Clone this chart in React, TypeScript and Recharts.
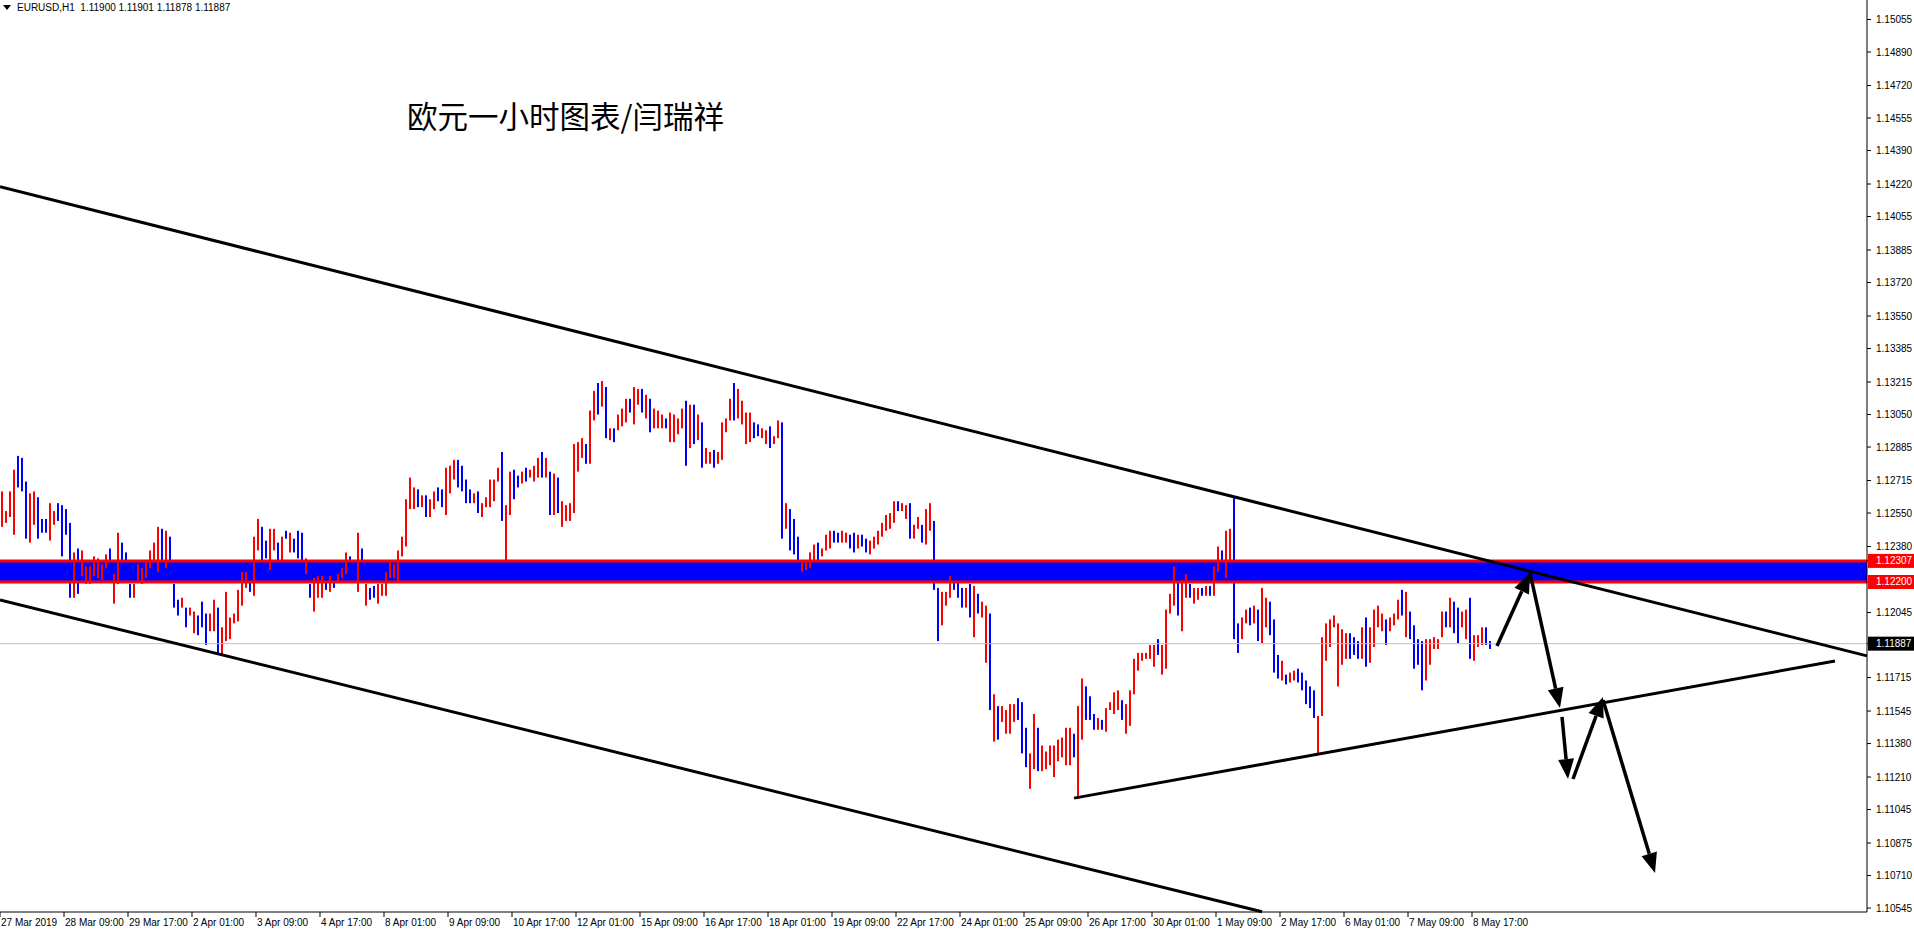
import React from "react";
import {
  ComposedChart,
  Bar,
  XAxis,
  YAxis,
  ReferenceArea,
  ReferenceLine,
} from "recharts";

const week1: [number, number][] = [
  [1.1266, 1.1248], [1.1256, 1.125], [1.1266, 1.1253], [1.1277, 1.1244], [1.1284, 1.1268],
  [1.1283, 1.1266], [1.1271, 1.1242], [1.1265, 1.124], [1.1266, 1.1249], [1.1263, 1.1242],
  [1.1252, 1.1245], [1.1252, 1.1245], [1.126, 1.1241], [1.1256, 1.1249], [1.126, 1.1251],
  [1.1259, 1.1233], [1.1257, 1.1244], [1.125, 1.1212], [1.1235, 1.1212], [1.1237, 1.1214],
  [1.1236, 1.1223], [1.1228, 1.1219], [1.1228, 1.1219], [1.1233, 1.1223], [1.1232, 1.1222],
  [1.1229, 1.1221], [1.1234, 1.1227], [1.1237, 1.1228], [1.1224, 1.1209], [1.1245, 1.1219],
  [1.124, 1.1227], [1.1235, 1.1226], [1.1219, 1.1212], [1.1219, 1.1212], [1.1229, 1.1221],
  [1.1227, 1.1219],
];
const week2: [number, number][] = [
  [1.1231, 1.1222], [1.1236, 1.1227], [1.124, 1.123], [1.1248, 1.1225], [1.1247, 1.123],
  [1.1246, 1.1227], [1.1243, 1.1227], [1.1219, 1.1207], [1.1211, 1.1203], [1.1212, 1.1207],
  [1.1207, 1.1197], [1.1207, 1.1203], [1.1205, 1.1194], [1.1203, 1.1193], [1.121, 1.1197],
  [1.1204, 1.1188], [1.1204, 1.1195], [1.1211, 1.1195], [1.1207, 1.1183], [1.1197, 1.1183],
  [1.1215, 1.119], [1.1202, 1.1191], [1.1204, 1.1199], [1.1216, 1.12], [1.1225, 1.1208],
  [1.1225, 1.1217], [1.1225, 1.1215], [1.1243, 1.1213], [1.1252, 1.1236], [1.1248, 1.1231],
  [1.1241, 1.1232], [1.1247, 1.1226], [1.1247, 1.1236], [1.124, 1.1231], [1.1243, 1.1231],
  [1.1246, 1.1242], [1.1245, 1.1235], [1.1242, 1.1235], [1.1246, 1.1232], [1.1245, 1.1231],
  [1.1232, 1.1224], [1.1219, 1.1212], [1.1222, 1.1205], [1.1223, 1.1212], [1.1223, 1.1212],
  [1.1223, 1.1216], [1.1223, 1.1215], [1.1222, 1.1217], [1.1224, 1.122], [1.1227, 1.1222],
  [1.1235, 1.1224], [1.1233, 1.1223], [1.1231, 1.1226], [1.1245, 1.1215], [1.1237, 1.1228],
  [1.1219, 1.1208], [1.1217, 1.1211], [1.1218, 1.1212], [1.1219, 1.1209], [1.1219, 1.1213],
];
const week3: [number, number][] = [
  [1.1225, 1.1213], [1.1231, 1.1222], [1.1229, 1.1222], [1.1236, 1.122], [1.1243, 1.1233],
  [1.1262, 1.1238], [1.1273, 1.1257], [1.1268, 1.1257], [1.1267, 1.1258], [1.1264, 1.1258],
  [1.1264, 1.1253], [1.1262, 1.1253], [1.1266, 1.1257], [1.1268, 1.1261], [1.1267, 1.1258],
  [1.1278, 1.1254], [1.1279, 1.1265], [1.1282, 1.1272], [1.1282, 1.1268], [1.1279, 1.1266],
  [1.1272, 1.126], [1.1267, 1.126], [1.1265, 1.126], [1.1266, 1.1255], [1.126, 1.1253],
  [1.1263, 1.1258], [1.1272, 1.1258], [1.1272, 1.1261], [1.1278, 1.1271], [1.1286, 1.1251],
  [1.1259, 1.123], [1.1276, 1.1254], [1.1277, 1.1262], [1.1274, 1.1268], [1.1276, 1.127],
  [1.1278, 1.1271], [1.1277, 1.1273], [1.1279, 1.1271], [1.1283, 1.1273], [1.1286, 1.1273],
  [1.1283, 1.1273], [1.1276, 1.1254], [1.1275, 1.1254], [1.1273, 1.1255], [1.1261, 1.1248],
  [1.1259, 1.1251], [1.126, 1.1251], [1.129, 1.1255], [1.1291, 1.1276], [1.1293, 1.1283],
  [1.129, 1.128], [1.1307, 1.128], [1.1317, 1.1302], [1.1321, 1.1305], [1.1322, 1.1309],
  [1.1319, 1.1293], [1.1298, 1.1292], [1.1298, 1.1291], [1.1305, 1.1297], [1.1308, 1.1299],
];
const week4: [number, number][] = [
  [1.1313, 1.1301], [1.1313, 1.1306], [1.1319, 1.13], [1.1318, 1.131], [1.1318, 1.1306],
  [1.1315, 1.1303], [1.1313, 1.1296], [1.1308, 1.1298], [1.1307, 1.1298], [1.1305, 1.1298],
  [1.1303, 1.1298], [1.1306, 1.1291], [1.1305, 1.1291], [1.1303, 1.1295], [1.1308, 1.1298],
  [1.1312, 1.1279], [1.131, 1.1288], [1.131, 1.129], [1.1305, 1.1292], [1.1301, 1.1278],
  [1.1288, 1.128], [1.1286, 1.128], [1.1287, 1.1278], [1.1286, 1.128], [1.1301, 1.1282],
  [1.1303, 1.1296], [1.1313, 1.1302], [1.1321, 1.1302], [1.1318, 1.1303], [1.1312, 1.13],
  [1.1306, 1.129], [1.1306, 1.1291], [1.1301, 1.1293], [1.13, 1.1294], [1.1298, 1.1293],
  [1.1297, 1.129], [1.1299, 1.1288], [1.1294, 1.129], [1.1302, 1.1293], [1.1301, 1.1242],
  [1.126, 1.1247], [1.1257, 1.1236], [1.1252, 1.1234], [1.1243, 1.123], [1.123, 1.1225],
  [1.1231, 1.1226], [1.1235, 1.1227], [1.1239, 1.1231], [1.124, 1.123], [1.1237, 1.1233],
  [1.1244, 1.1236], [1.1246, 1.1237], [1.1246, 1.124], [1.1245, 1.124], [1.1246, 1.124],
  [1.1245, 1.124], [1.1244, 1.1237], [1.1245, 1.1235], [1.1244, 1.1237], [1.1244, 1.1238],
];
const week5: [number, number][] = [
  [1.1242, 1.1235], [1.1241, 1.1234], [1.1243, 1.1237], [1.1246, 1.1239], [1.125, 1.1243],
  [1.1254, 1.1246], [1.1255, 1.1247], [1.1261, 1.125], [1.1261, 1.1256], [1.126, 1.1256],
  [1.1259, 1.1252], [1.126, 1.1242], [1.1249, 1.1242], [1.1253, 1.1247], [1.1249, 1.124],
  [1.1257, 1.1239], [1.126, 1.1246], [1.1251, 1.1216], [1.1217, 1.119], [1.1215, 1.1198],
  [1.1215, 1.1208], [1.1223, 1.1212], [1.1221, 1.1216], [1.1223, 1.1212], [1.1217, 1.1207],
  [1.1217, 1.1207], [1.1219, 1.1202], [1.1218, 1.1192], [1.1214, 1.1204], [1.121, 1.1202],
  [1.1208, 1.1179], [1.1204, 1.1155], [1.1163, 1.1139], [1.1157, 1.114], [1.1157, 1.1149],
  [1.1155, 1.1143], [1.1158, 1.1143], [1.1158, 1.1149], [1.1161, 1.115], [1.1159, 1.1133],
  [1.1146, 1.1126], [1.1133, 1.1115], [1.1153, 1.1125], [1.1146, 1.1124], [1.1137, 1.1124],
  [1.1134, 1.1125], [1.1137, 1.1127], [1.1137, 1.1121], [1.114, 1.1129], [1.1141, 1.1131],
  [1.1146, 1.1127], [1.1146, 1.1127], [1.1143, 1.1131], [1.1157, 1.111], [1.1171, 1.114],
  [1.1167, 1.115], [1.1162, 1.115], [1.1153, 1.1145], [1.1151, 1.1145], [1.115, 1.1145],
];
const week6: [number, number][] = [
  [1.1156, 1.1144], [1.1159, 1.1155], [1.1164, 1.1153], [1.1165, 1.1155], [1.116, 1.115],
  [1.1158, 1.1143], [1.1165, 1.1147], [1.1181, 1.1163], [1.1184, 1.1175], [1.1184, 1.118],
  [1.1184, 1.1181], [1.1188, 1.1181], [1.1188, 1.1177], [1.1191, 1.1183], [1.1188, 1.1173],
  [1.1206, 1.1176], [1.1214, 1.1204], [1.1228, 1.1208], [1.1227, 1.1203], [1.1221, 1.1195],
  [1.1224, 1.1212], [1.1219, 1.1212], [1.1217, 1.1209], [1.1217, 1.1211], [1.1217, 1.1213],
  [1.1218, 1.1213], [1.1218, 1.1213], [1.1228, 1.1213], [1.1238, 1.1225], [1.1236, 1.1228],
  [1.1246, 1.1222], [1.1247, 1.123], [1.1263, 1.1191], [1.1199, 1.1184], [1.1202, 1.1191],
  [1.1206, 1.1199], [1.1207, 1.1198], [1.1208, 1.1199], [1.1206, 1.119], [1.1217, 1.1189],
  [1.1212, 1.1197], [1.121, 1.1193], [1.1201, 1.1174], [1.1183, 1.1171], [1.118, 1.117],
  [1.1173, 1.1168], [1.1174, 1.1169], [1.1175, 1.117], [1.1176, 1.1169], [1.1174, 1.1165],
  [1.117, 1.1158], [1.1167, 1.1156], [1.1165, 1.1151], [1.1152, 1.1133], [1.1192, 1.1152],
  [1.1199, 1.118], [1.1201, 1.1187], [1.1203, 1.1197], [1.1199, 1.1167], [1.1196, 1.1178],
];
const week7: [number, number][] = [
  [1.1194, 1.1181], [1.1194, 1.1181], [1.1192, 1.1183], [1.119, 1.1181], [1.1197, 1.1181],
  [1.1202, 1.1177], [1.1197, 1.1179], [1.1206, 1.1187], [1.1208, 1.1197], [1.1204, 1.1195],
  [1.1201, 1.1188], [1.1202, 1.1195], [1.1204, 1.1198], [1.1211, 1.1201], [1.1216, 1.1203],
  [1.1215, 1.1192], [1.1205, 1.1191], [1.1198, 1.1176], [1.1191, 1.1178], [1.119, 1.1165],
  [1.1191, 1.117], [1.1191, 1.1178], [1.1192, 1.1186], [1.1191, 1.1186], [1.1205, 1.1192],
  [1.1205, 1.1197], [1.1212, 1.1197], [1.121, 1.1194], [1.1207, 1.1189], [1.1205, 1.1197],
  [1.1206, 1.1191], [1.1212, 1.1181], [1.1193, 1.118], [1.1193, 1.1187], [1.1197, 1.1188],
  [1.1197, 1.1188], [1.119, 1.1186],
];

// R = bullish (red), B = bearish (blue)
const week1Dir = "RRRRBBBRRBBBRRBBBBRBRRRRRRRBRRBBBRRR";
const week2Dir = "RRRRBRBBBRBRRBBBRRBRRRRRRRBRRBBRRBRBRBBBRBRRRBRBRRRBBRBRBBRR";
const week3Dir = "RRRRRRRRBRBRRBBRRRBBBBRBRRRRRBRRBBRBRRRBRBRBRRRRRRBRRBRBRBRR";
const week4Dir = "RBRRBRBRRRBRRRRBRBRBRRBRRRRBRRRRBBRRBRRBRBBBRRRRBRRRBBRRBBRB";
const week5Dir = "BRRRRRRRBRRBRRBRRBBRRRBBBRBRBRRBRBRRRRBBBRRBRRRRRRRRBRRBBBRB";
const week6Dir = "RRRRBRRRRRRRRBRRRRBRRBRRBRBRRBRRBBRRBRBRRBBBRBRRBBBBBRRRRRRR";
const week7Dir = "RBBBRBRRRRBRRRBRBBBBRRRRRBRBBRRBRRRBB";

const currentPrice = 1.11887;
const zoneLow = 1.122;
const zoneHigh = 1.12307;

const priceTicks = [
  1.15055, 1.1489, 1.1472, 1.14555, 1.1439, 1.1422, 1.14055, 1.13885, 1.1372, 1.1355,
  1.13385, 1.13215, 1.1305, 1.12885, 1.12715, 1.1255, 1.1238, 1.12307, 1.122, 1.12045,
  1.11887, 1.11715, 1.11545, 1.1138, 1.1121, 1.11045, 1.10875, 1.1071, 1.10545,
];

// hours from 27 Mar 01:00 (server time)
const timeTicks = [
  0, 32, 64, 96, 128, 160, 192, 224, 256, 288, 320, 352, 384, 416, 448, 480, 512, 544,
  576, 608, 640, 672, 704, 736,
];
const timeLabels = [
  "27 Mar 2019", "28 Mar 09:00", "29 Mar 17:00", "2 Apr 01:00", "3 Apr 09:00",
  "4 Apr 17:00", "8 Apr 01:00", "9 Apr 09:00", "10 Apr 17:00", "12 Apr 01:00",
  "15 Apr 09:00", "16 Apr 17:00", "18 Apr 01:00", "19 Apr 09:00", "22 Apr 17:00",
  "24 Apr 01:00", "25 Apr 09:00", "26 Apr 17:00", "30 Apr 01:00", "1 May 09:00",
  "2 May 17:00", "6 May 01:00", "7 May 09:00", "8 May 17:00",
];

// hand-drawn trend lines: [hour, price]
const upperChannel = [[0, 1.14206], [933.5, 1.11825]];
const lowerChannel = [[0, 1.12109], [631, 1.10526]];
const supportLine = [[537, 1.11103], [917.5, 1.11799]];
const arrowPath = [
  [[748.5, 1.11875], [765, 1.12246]],
  [[765, 1.12246], [780, 1.1156]],
  [[781, 1.11515], [784, 1.112]],
  [[786.5, 1.112], [801.5, 1.11616]],
  [[801.5, 1.11601], [827.5, 1.10723]],
];

const weeks = [week1, week2, week3, week4, week5, week6, week7];
const dirs = [week1Dir, week2Dir, week3Dir, week4Dir, week5Dir, week6Dir, week7Dir].join("");
const candles = weeks.flat().map(([hi, lo], i) => ({
  t: 2 * i + 1,
  range: [lo, hi],
  up: dirs[i] !== "B",
}));

const FONT = "'Liberation Sans', Arial, sans-serif";

const Candle = (props: any) => {
  const { x, y, height, payload } = props;
  if (x == null || y == null) return null;
  const h = Math.abs(height);
  const top = height < 0 ? y + height : y;
  return (
    <rect
      x={x}
      y={top}
      width={2}
      height={Math.max(1, h)}
      fill={payload.up ? "#ff0000" : "#0000ff"}
    />
  );
};

const PriceTick = (props: any) => {
  const { x, y, payload } = props;
  const v = payload.value;
  let bg: string | null = null;
  if (v === zoneHigh || v === zoneLow) bg = "#ff0000";
  if (v === currentPrice) bg = "#000000";
  return (
    <g>
      {bg && <rect x={x - 7} y={y - 7} width={48} height={14} fill={bg} />}
      <text
        x={x + 1}
        y={y}
        dy="0.35em"
        fontFamily={FONT}
        fontSize={10}
        fill={bg ? "#ffffff" : "#000000"}
      >
        {v.toFixed(5)}
      </text>
    </g>
  );
};

const TimeTick = (props: any) => {
  const { x, y, payload } = props;
  const idx = timeTicks.indexOf(payload.value);
  return (
    <text x={x + 1} y={y} dy="0.72em" fontFamily={FONT} fontSize={10} fill="#000">
      {timeLabels[idx]}
    </text>
  );
};

const ArrowShape = (props: any) => {
  const { x1, y1, x2, y2 } = props;
  const a = Math.atan2(y2 - y1, x2 - x1);
  const len = 20;
  const half = 8;
  const bx = x2 - len * Math.cos(a);
  const by = y2 - len * Math.sin(a);
  const pts = [
    `${x2},${y2}`,
    `${bx + half * Math.sin(a)},${by - half * Math.cos(a)}`,
    `${bx - half * Math.sin(a)},${by + half * Math.cos(a)}`,
  ].join(" ");
  return (
    <g>
      <line x1={x1} y1={y1} x2={bx} y2={by} stroke="#000" strokeWidth={3.5} />
      <polygon points={pts} fill="#000" />
    </g>
  );
};

const seg = (pts: number[][]) => [
  { x: pts[0][0], y: pts[0][1] },
  { x: pts[1][0], y: pts[1][1] },
];

export default function App() {
  return (
    <div
      style={{
        position: "absolute",
        left: 0,
        top: 0,
        width: 1914,
        height: 931,
        background: "#fff",
        overflow: "hidden",
      }}
    >
      <ComposedChart
        width={1914}
        height={931}
        data={candles}
        margin={{ top: 0, right: 0, bottom: 0, left: 0 }}
      >
        <XAxis
          type="number"
          dataKey="t"
          domain={[0, 933.5]}
          ticks={timeTicks}
          interval={0}
          allowDataOverflow
          height={19}
          tickSize={5}
          tickMargin={2}
          axisLine={{ stroke: "#000" }}
          tickLine={{ stroke: "#000" }}
          tick={<TimeTick />}
        />
        <YAxis
          orientation="right"
          type="number"
          domain={[1.10525, 1.15154]}
          ticks={priceTicks}
          interval={0}
          allowDataOverflow
          width={47}
          tickSize={4}
          tickMargin={4}
          axisLine={{ stroke: "#000" }}
          tickLine={{ stroke: "#000" }}
          tick={<PriceTick />}
        />
        <ReferenceArea
          y1={zoneLow}
          y2={zoneHigh}
          fill="#0000ff"
          fillOpacity={1}
          strokeWidth={0}
        />
        <ReferenceLine y={currentPrice} stroke="#c0c0c0" strokeWidth={1} />
        <Bar dataKey="range" barSize={2} isAnimationActive={false} shape={<Candle />} />
        <ReferenceLine y={zoneHigh} stroke="#ff0000" strokeWidth={3} />
        <ReferenceLine y={zoneLow} stroke="#ff0000" strokeWidth={3} />
        <ReferenceLine segment={seg(upperChannel)} stroke="#000" strokeWidth={3} ifOverflow="visible" />
        <ReferenceLine segment={seg(lowerChannel)} stroke="#000" strokeWidth={3} ifOverflow="visible" />
        <ReferenceLine segment={seg(supportLine)} stroke="#000" strokeWidth={3} ifOverflow="visible" />
        {arrowPath.map((p, i) => (
          <ReferenceLine key={i} segment={seg(p)} ifOverflow="visible" shape={ArrowShape} />
        ))}
      </ComposedChart>
      <div
        style={{
          position: "absolute",
          left: 3,
          top: 2,
          fontFamily: FONT,
          fontSize: 10,
          color: "#000",
          whiteSpace: "pre",
          display: "flex",
          alignItems: "center",
        }}
      >
        <svg width={9} height={6} style={{ marginRight: 5 }}>
          <polygon points="0,0 8,0 4,5" fill="#000" />
        </svg>
        {"EURUSD,H1  1.11900 1.11901 1.11878 1.11887"}
      </div>
      <div
        style={{
          position: "absolute",
          left: 407,
          top: 100,
          fontFamily: "'Noto Sans CJK SC', sans-serif",
          fontSize: 30.5,
          lineHeight: 1,
          color: "#000",
          whiteSpace: "nowrap",
        }}
      >
        欧元一小时图表/闫瑞祥
      </div>
    </div>
  );
}
